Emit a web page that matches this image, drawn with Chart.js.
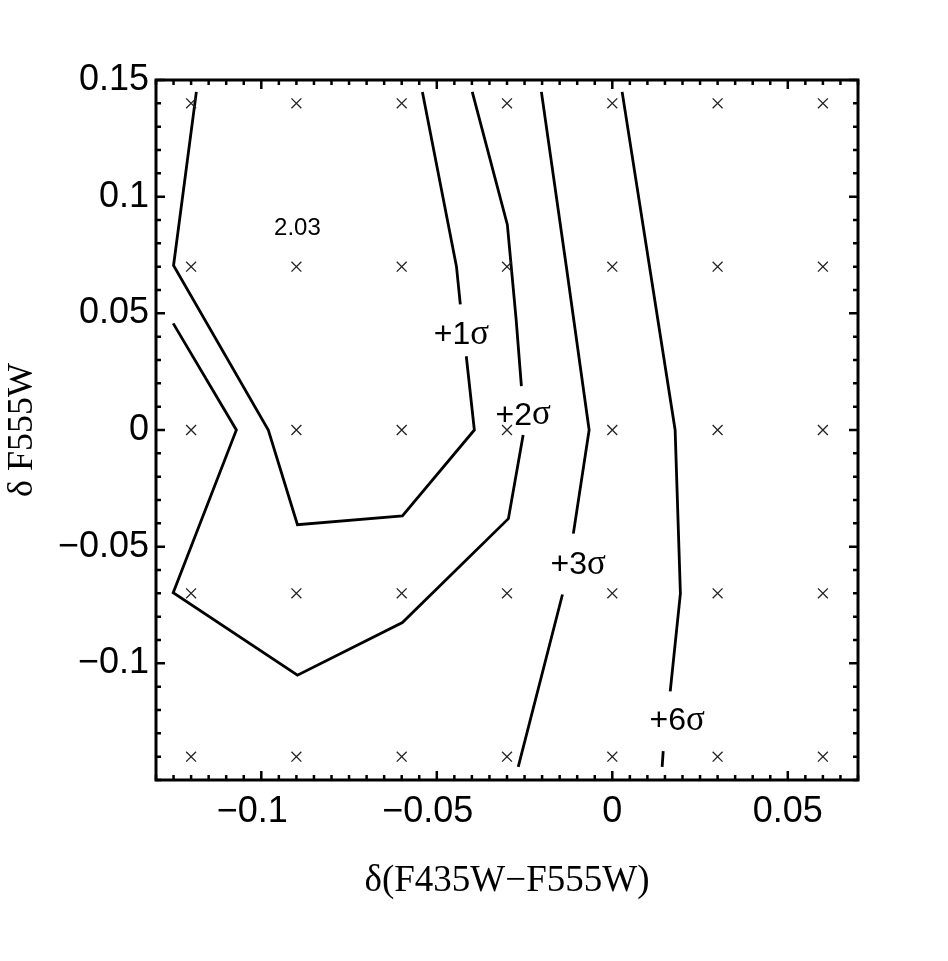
<!DOCTYPE html>
<html>
<head>
<meta charset="utf-8">
<title>δ F555W vs δ(F435W−F555W)</title>
<script src="https://cdn.jsdelivr.net/npm/chart.js@4"></script>
<style>
  html, body { margin: 0; background: #fff; }
</style>
</head>
<body>
<canvas id="c" width="948" height="961"></canvas>
<script>
// model grid (the × marks)
const GRID_X = [-0.12, -0.09, -0.06, -0.03, 0, 0.03, 0.06];
const GRID_Y = [0.14, 0.07, 0, -0.07, -0.14];

// contour lines, null = gap left for the level label
const C1_X = [-0.1185, -0.1250, -0.0980, -0.0897, -0.0598, -0.0393, -0.0416, null, -0.0433, -0.0444, -0.0541];
const C1_Y = [0.1449, 0.0705, 0.0, -0.0406, -0.0368, 0.0, 0.0316, null, 0.0538, 0.0701, 0.1449];
const C2_X = [-0.1251, -0.1071, -0.1251, -0.0897, -0.0598, -0.0296, -0.0254, null, -0.0259, -0.0274, -0.0288, -0.0299, -0.0399];
const C2_Y = [0.0457, 0.0, -0.0697, -0.1051, -0.0825, -0.0380, -0.0021, null, 0.0188, 0.0474, 0.0701, 0.0880, 0.1449];
const C3_X = [-0.0202, -0.0131, -0.0066, -0.0111, null, -0.0142, -0.0268];
const C3_Y = [0.1449, 0.0701, 0.0, -0.0444, null, -0.0705, -0.1444];
const C4_X = [0.0028, 0.0179, 0.0194, 0.0165, null, 0.0145, 0.0142];
const C4_Y = [0.1449, 0.0, -0.0701, -0.1120, null, -0.1376, -0.1444];

// level labels
const LEVEL_TEXT = ['+1', '+2', '+3', '+6'];
const LEVEL_X = [-0.0430, -0.0254, -0.0097, 0.0185];
const LEVEL_Y = [0.0405, 0.0060, -0.0580, -0.1250];
const MIN_TEXT = '2.03';
const MIN_X = -0.0897;
const MIN_Y = 0.0863;

// axes
const X_TICKS = [-0.1, -0.05, 0, 0.05];
const X_TICK_LABELS = ['−0.1', '−0.05', '0', '0.05'];
const Y_TICKS = [0.15, 0.1, 0.05, 0, -0.05, -0.1];
const Y_TICK_LABELS = ['0.15', '0.1', '0.05', '0', '−0.05', '−0.1'];

const pts = (xs, ys) => xs.map((x, i) => ({ x, y: ys[i] }));
const findTick = (list, v) => list.findIndex(t => Math.abs(t - v) < 1e-9);

const contour = (xs, ys) => ({
  data: pts(xs, ys), showLine: true, spanGaps: false,
  borderColor: '#000', borderWidth: 2.8, pointRadius: 0, tension: 0,
});

// frame with inward ticks on all sides + text on the plot
const frame = {
  id: 'frame',
  afterDatasetsDraw(chart) {
    const { ctx, chartArea: a, scales: { x, y } } = chart;
    ctx.save();
    ctx.fillStyle = '#000';
    ctx.textBaseline = 'middle';
    ctx.textAlign = 'left';
    const sans = '32px "Liberation Sans"', serif = '35px "Liberation Serif"';
    LEVEL_TEXT.forEach((t, i) => {
      const cx = x.getPixelForValue(LEVEL_X[i]), cy = y.getPixelForValue(LEVEL_Y[i]);
      ctx.font = sans;
      const w1 = ctx.measureText(t).width;
      ctx.font = serif;
      const w2 = ctx.measureText('σ').width;
      const x0 = cx - (w1 + w2) / 2;
      ctx.font = sans;
      ctx.fillText(t, x0, cy);
      ctx.font = serif;
      ctx.fillText('σ', x0 + w1, cy - 1);
    });
    ctx.font = '24px "Liberation Sans"';
    ctx.textAlign = 'center';
    ctx.fillText(MIN_TEXT, x.getPixelForValue(MIN_X), y.getPixelForValue(MIN_Y));

    ctx.strokeStyle = '#000';
    ctx.lineWidth = 2.5;
    ctx.beginPath();
    x.ticks.forEach(t => {
      const p = x.getPixelForValue(t.value);
      const len = findTick(X_TICKS, t.value) >= 0 ? 9 : 5;
      ctx.moveTo(p, a.bottom); ctx.lineTo(p, a.bottom - len);
      ctx.moveTo(p, a.top); ctx.lineTo(p, a.top + len);
    });
    y.ticks.forEach(t => {
      const p = y.getPixelForValue(t.value);
      const len = findTick(Y_TICKS, t.value) >= 0 ? 9 : 5;
      ctx.moveTo(a.left, p); ctx.lineTo(a.left + len, p);
      ctx.moveTo(a.right, p); ctx.lineTo(a.right - len, p);
    });
    ctx.stroke();
    ctx.lineWidth = 3;
    ctx.strokeRect(a.left, a.top, a.right - a.left, a.bottom - a.top);
    ctx.restore();
  }
};

new Chart(document.getElementById('c'), {
  type: 'scatter',
  data: {
    datasets: [
      {
        data: GRID_Y.flatMap(gy => GRID_X.map(gx => ({ x: gx, y: gy }))),
        pointStyle: 'crossRot', pointRadius: 7, borderColor: '#222', borderWidth: 1.3,
      },
      contour(C1_X, C1_Y),
      contour(C2_X, C2_Y),
      contour(C3_X, C3_Y),
      contour(C4_X, C4_Y),
    ]
  },
  options: {
    responsive: false,
    animation: false,
    layout: { padding: { top: 80, right: 90, left: 0, bottom: 0 } },
    plugins: { legend: { display: false }, tooltip: { enabled: false } },
    scales: {
      x: {
        type: 'linear', min: -0.13, max: 0.07,
        afterFit: s => { s.height = 181; },
        grid: { display: false, drawTicks: false },
        border: { display: false },
        ticks: {
          stepSize: 0.005, autoSkip: false, maxRotation: 0, padding: 10, color: '#000',
          font: { family: 'Liberation Sans', size: 36 },
          callback: v => {
            const i = findTick(X_TICKS, v);
            if (i < 0) return '';
            return X_TICKS[i] < 0 ? X_TICK_LABELS[i] + '\u2002' : X_TICK_LABELS[i];
          }
        },
        title: {
          display: true, text: 'δ(F435W−F555W)', color: '#000',
          font: { family: 'Liberation Serif', size: 37 },
          padding: { top: 0, bottom: 58 }
        }
      },
      y: {
        type: 'linear', min: -0.15, max: 0.15,
        afterFit: s => { s.width = 156; },
        grid: { display: false, drawTicks: false },
        border: { display: false },
        ticks: {
          stepSize: 0.01, autoSkip: false, padding: 7, color: '#000',
          font: { family: 'Liberation Sans', size: 36 },
          callback: v => {
            const i = findTick(Y_TICKS, v);
            return i < 0 ? '' : Y_TICK_LABELS[i];
          }
        },
        title: {
          display: true, text: 'δ F555W', color: '#000',
          font: { family: 'Liberation Serif', size: 36 },
          padding: { top: 1, bottom: 0 }
        }
      }
    }
  },
  plugins: [frame]
});
</script>
</body>
</html>
